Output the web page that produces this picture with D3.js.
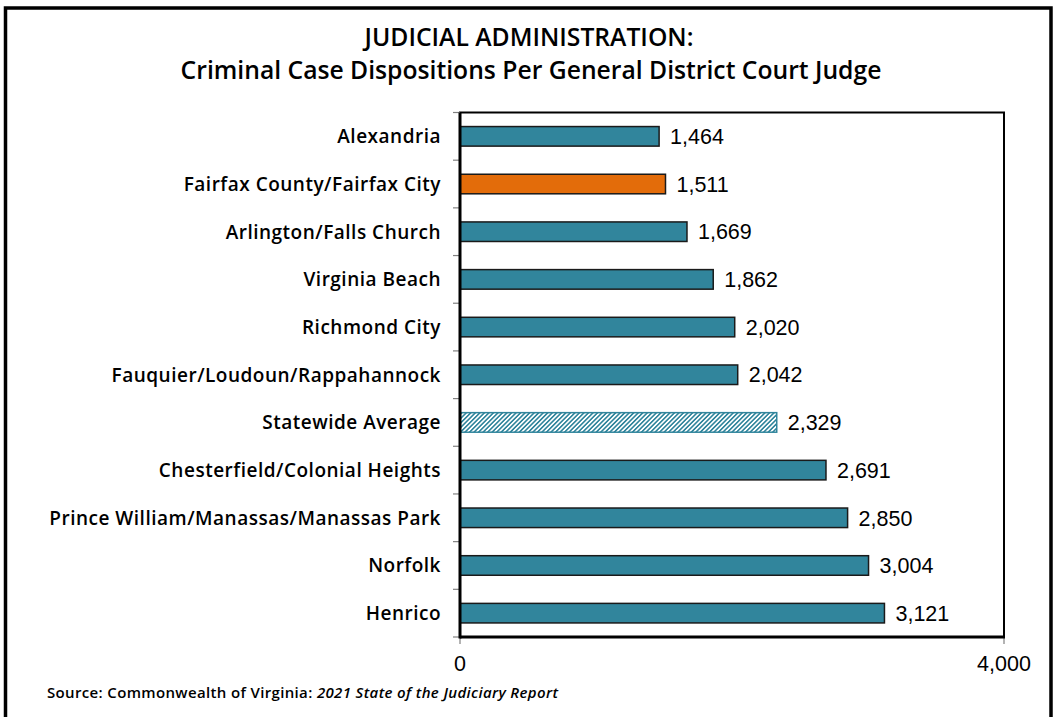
<!DOCTYPE html>
<html>
<head>
<meta charset="utf-8">
<script src="https://cdn.jsdelivr.net/npm/d3@7"></script>
<style>
  html, body { margin: 0; padding: 0; background: #fff; }
  svg { display: block; }
</style>
</head>
<body>
<svg id="chart" width="1055" height="717"></svg>
<script>
const titleLines = ["JUDICIAL ADMINISTRATION:", "Criminal Case Dispositions Per General District Court Judge"];
const categories = [
  "Alexandria",
  "Fairfax County/Fairfax City",
  "Arlington/Falls Church",
  "Virginia Beach",
  "Richmond City",
  "Fauquier/Loudoun/Rappahannock",
  "Statewide Average",
  "Chesterfield/Colonial Heights",
  "Prince William/Manassas/Manassas Park",
  "Norfolk",
  "Henrico"
];
const values = [1464, 1511, 1669, 1862, 2020, 2042, 2329, 2691, 2850, 3004, 3121];
const xTicks = [0, 4000];
const highlightCategory = "Fairfax County/Fairfax City";
const averageCategory = "Statewide Average";
const sourcePlain = "Source: Commonwealth of Virginia: ";
const sourceItalic = "2021 State of the Judiciary Report";

const svg = d3.select("#chart");
const plot = { left: 460, right: 1004, top: 112.5, bottom: 637 };

const TEAL = "#31859C", ORANGE = "#E36C0A";
const labelFont = "'Open Sans', 'Liberation Sans', Arial, sans-serif";
const numFont = "'Liberation Sans', Arial, sans-serif";

// outer frame
svg.append("rect").attr("x", 5.5).attr("y", 8).attr("width", 1045.5).attr("height", 740)
  .attr("fill", "none").attr("stroke", "#000").attr("stroke-width", 3.5);

// hatch pattern
const defs = svg.append("defs");
const pat = defs.append("pattern").attr("id", "hatch").attr("patternUnits", "userSpaceOnUse")
  .attr("width", 3.2).attr("height", 3.2).attr("patternTransform", "rotate(45)");
pat.append("rect").attr("width", 3.2).attr("height", 3.2).attr("fill", "#fff");
pat.append("rect").attr("x", 0).attr("width", 1.6).attr("height", 3.2).attr("fill", TEAL);

// title
const title = svg.append("text").attr("text-anchor", "middle")
  .attr("font-family", labelFont).attr("font-weight", 600).attr("fill", "#000")
  .attr("font-size", 24.7);
title.append("tspan").attr("x", 529).attr("y", 46).text(titleLines[0]);
title.append("tspan").attr("x", 531).attr("y", 79).text(titleLines[1]);

const x = d3.scaleLinear().domain([0, 4000]).range([plot.left, plot.right]);
const y = d3.scaleBand().domain(categories).range([plot.top, plot.bottom]).paddingInner(0.59).paddingOuter(0.295);

// plot frame
svg.append("rect").attr("x", plot.left).attr("y", plot.top)
  .attr("width", plot.right - plot.left).attr("height", plot.bottom - plot.top)
  .attr("fill", "#fff").attr("stroke", "#000").attr("stroke-width", 2);

// y ticks at band boundaries
const boundaries = d3.range(categories.length + 1).map(i => plot.top + i * (plot.bottom - plot.top) / categories.length);
svg.append("g").selectAll("line").data(boundaries).join("line")
  .attr("x1", plot.left - 7).attr("x2", plot.left).attr("y1", d => d).attr("y2", d => d)
  .attr("stroke", "#808080").attr("stroke-width", 1.2);

// x ticks
svg.append("g").selectAll("line").data(xTicks).join("line")
  .attr("x1", d => x(d)).attr("x2", d => x(d)).attr("y1", plot.bottom).attr("y2", plot.bottom + 7)
  .attr("stroke", "#808080").attr("stroke-width", 1.2);
svg.append("g").selectAll("text").data(xTicks).join("text")
  .attr("x", d => x(d)).attr("y", 671).attr("text-anchor", "middle")
  .attr("font-family", numFont).attr("font-size", 21.5).attr("fill", "#000")
  .text(d => d3.format(",")(d));

// bars
const data = categories.map((c, i) => ({ c, v: values[i] }));
svg.append("g").selectAll("rect").data(data).join("rect")
  .attr("x", x(0)).attr("y", d => y(d.c)).attr("width", d => x(d.v) - x(0)).attr("height", y.bandwidth())
  .attr("fill", d => d.c === highlightCategory ? ORANGE : d.c === averageCategory ? "url(#hatch)" : TEAL)
  .attr("stroke", d => d.c === averageCategory ? TEAL : "#1a1a1a")
  .attr("stroke-width", 1.5);

// value labels
svg.append("g").selectAll("text").data(data).join("text")
  .attr("x", d => x(d.v) + 11).attr("y", d => y(d.c) + y.bandwidth() / 2).attr("dy", "0.36em")
  .attr("font-family", numFont).attr("font-size", 21.5).attr("fill", "#000")
  .text(d => d3.format(",")(d.v));

// category labels
svg.append("g").selectAll("text").data(categories).join("text")
  .attr("x", 441).attr("y", d => y(d) + y.bandwidth() / 2).attr("dy", "0.36em")
  .attr("text-anchor", "end").attr("font-family", labelFont).attr("font-weight", 600)
  .attr("font-size", 19).attr("letter-spacing", 0.5).attr("fill", "#000").text(d => d);

// axes lines (thick left & bottom)
svg.append("line").attr("x1", plot.left).attr("x2", plot.left).attr("y1", plot.top).attr("y2", plot.bottom + 1.5)
  .attr("stroke", "#000").attr("stroke-width", 3);
svg.append("line").attr("x1", plot.left).attr("x2", plot.right + 1).attr("y1", plot.bottom).attr("y2", plot.bottom)
  .attr("stroke", "#000").attr("stroke-width", 3);

// source
const src = svg.append("text").attr("x", 47).attr("y", 698)
  .attr("font-family", labelFont).attr("font-weight", 600).attr("font-size", 15)
  .attr("letter-spacing", 0.35).attr("fill", "#000");
src.append("tspan").text(sourcePlain);
src.append("tspan").attr("font-style", "italic").text(sourceItalic);
</script>
</body>
</html>
